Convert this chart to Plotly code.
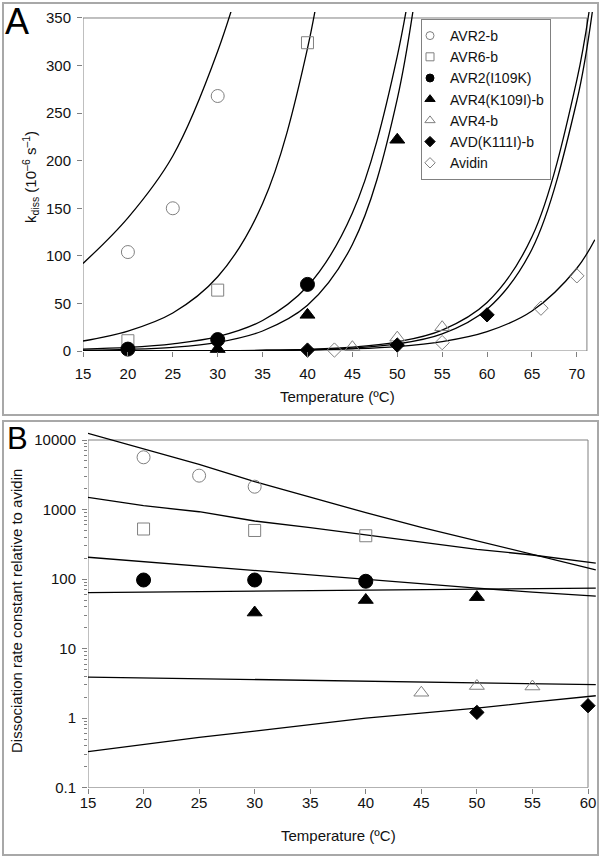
import plotly.graph_objects as go

W, H = 600, 858
FONT = "Liberation Sans, Arial, sans-serif"
GRAY = "#808080"

# ---------------- Panel A: k_diss vs temperature ----------------
temp_avr2b = [20, 25, 30]
kdiss_avr2b = [104, 150, 268]
temp_avr6b = [20, 30, 40]
kdiss_avr6b = [10.8, 64, 324]
temp_avr2_i109k = [20, 30, 40]
kdiss_avr2_i109k = [2, 12, 70]
temp_avr4_k109i = [30, 40, 50]
kdiss_avr4_k109i = [2, 38, 222]
temp_avr4b = [45, 50, 55]
kdiss_avr4b = [4, 14, 25]
temp_avd_k111i = [40, 50, 60]
kdiss_avd_k111i = [1, 6.3, 38]
temp_avidin = [43, 55, 66, 70]
kdiss_avidin = [1, 8.8, 45, 79]

# fitted curves, values
fit_temp = [15, 20, 25, 30, 35, 40, 45, 50, 55]
fit_avr2b = [92, 140, 205, 315, 470]
fit_avr6b = [10.5, 21, 40, 78, 155, 318, 620]
fit_avr2_i109k = [2, 3.8, 7.5, 15, 32, 68, 145, 310, 620]
fit_avr4_k109i = [0.8, 1.7, 3.8, 9, 21, 48, 112, 265, 600]
fit_temp_hi = [15, 20, 25, 30, 35, 40, 45, 50, 55, 60, 65, 70, 72]
fit_avr4b = [0.05, 0.1, 0.2, 0.3, 0.73, 1.7, 4.0, 9.6, 22, 51, 120, 285, 400]
fit_avd_k111i = [0.01, 0.02, 0.05, 0.15, 0.5, 1.2, 3.0, 7.4, 18, 44, 107, 263, 376]
fit_avidin = [0.03, 0.06, 0.12, 0.25, 0.5, 1.1, 2.3, 4.7, 9.8, 20.3, 42, 87, 117]

# ---------------- Panel B: ratio relative to avidin ----------------
rel_avr2b_t = [20, 25, 30]
rel_avr2b = [5640, 3070, 2130]
rel_avr6b_t = [20, 30, 40]
rel_avr6b = [525, 500, 420]
rel_avr2_i109k_t = [20, 30, 40]
rel_avr2_i109k = [97, 97, 93]
rel_avr4_k109i_t = [30, 40, 50]
rel_avr4_k109i = [33, 50, 55]
rel_avr4b_t = [45, 50, 55]
rel_avr4b = [2.32, 2.9, 2.85]
rel_avd_k111i_t = [50, 60]
rel_avd_k111i = [1.21, 1.51]

line_temp = [15, 20, 25, 30, 35, 40, 45, 50, 55, 60, 60.7]
line_avr2b = [12500, 7400, 4470, 2515, 1500, 902, 555, 356, 227, 143, 136]
line_avr6b = [1500, 1135, 930, 684, 548, 430, 334, 268, 222, 174, 169]
line_avr2_i109k = [206, 178, 154, 131, 115, 97, 85, 74, 65, 58, 57]
line_avr4_k109i = [64, 65, 66, 67, 68, 69.5, 70.5, 71.5, 72.5, 74, 74]
line_avr4b = [3.9, 3.8, 3.7, 3.6, 3.5, 3.4, 3.3, 3.2, 3.12, 3.05, 3.04]
line_avd_k111i = [0.33, 0.42, 0.53, 0.65, 0.8, 1.0, 1.18, 1.39, 1.7, 2.05, 2.1]

ticks_a_x = [15, 20, 25, 30, 35, 40, 45, 50, 55, 60, 65, 70]
ticks_a_y = [0, 50, 100, 150, 200, 250, 300, 350]
ticks_b_x = [15, 20, 25, 30, 35, 40, 45, 50, 55, 60]
ticks_b_y = [0.1, 1, 10, 100, 1000, 10000]
ticks_b_y_text = ["0.1", "1", "10", "100", "1000", "10000"]

series = [
    ("AVR2-b", "circle-open", GRAY, 13, 8),
    ("AVR6-b", "square-open", GRAY, 12, 8),
    ("AVR2(I109K)", "circle", "black", 14, 8),
    ("AVR4(K109I)-b", "triangle-up", "black", 13, 9),
    ("AVR4-b", "triangle-up-open", GRAY, 13, 9),
    ("AVD(K111I)-b", "diamond", "black", 11, 8),
    ("Avidin", "diamond-open", GRAY, 11, 8),
]
pts_a = [
    (temp_avr2b, kdiss_avr2b), (temp_avr6b, kdiss_avr6b),
    (temp_avr2_i109k, kdiss_avr2_i109k), (temp_avr4_k109i, kdiss_avr4_k109i),
    (temp_avr4b, kdiss_avr4b), (temp_avd_k111i, kdiss_avd_k111i),
    (temp_avidin, kdiss_avidin),
]
fits_a = [(fit_temp, fit_avr2b), (fit_temp, fit_avr6b),
          (fit_temp, fit_avr2_i109k), (fit_temp, fit_avr4_k109i),
          (fit_temp_hi, fit_avr4b), (fit_temp_hi, fit_avd_k111i),
          (fit_temp_hi, fit_avidin)]
pts_b = [
    (rel_avr2b_t, rel_avr2b), (rel_avr6b_t, rel_avr6b),
    (rel_avr2_i109k_t, rel_avr2_i109k), (rel_avr4_k109i_t, rel_avr4_k109i),
    (rel_avr4b_t, rel_avr4b), (rel_avd_k111i_t, rel_avd_k111i),
]
lines_b = [line_avr2b, line_avr6b, line_avr2_i109k, line_avr4_k109i,
           line_avr4b, line_avd_k111i]

fig = go.Figure()

LW = 1.3
for t, f in fits_a:
    fig.add_trace(go.Scatter(x=t[:len(f)], y=f, mode="lines",
                             line=dict(color="black", width=LW, shape="spline"),
                             showlegend=False, hoverinfo="skip",
                             xaxis="x", yaxis="y"))
for (t, k), (name, sym, col, sz, lsz) in zip(pts_a, series):
    fig.add_trace(go.Scatter(x=t, y=k, mode="markers", name=name,
                             marker=dict(symbol=sym, size=sz, color=col,
                                         line=dict(color=col, width=1)),
                             showlegend=False, cliponaxis=False,
                             xaxis="x", yaxis="y"))
# legend entries (smaller symbols, like the original legend)
for name, sym, col, sz, lsz in series:
    fig.add_trace(go.Scatter(x=[None], y=[None], mode="markers", name=name,
                             marker=dict(symbol=sym, size=lsz, color=col,
                                         line=dict(color=col, width=1)),
                             showlegend=True, xaxis="x", yaxis="y"))

for ln in lines_b:
    fig.add_trace(go.Scatter(x=line_temp, y=ln, mode="lines",
                             line=dict(color="black", width=LW),
                             showlegend=False, hoverinfo="skip",
                             xaxis="x2", yaxis="y2"))
for (t, r), (name, sym, col, sz, lsz) in zip(pts_b, series):
    fig.add_trace(go.Scatter(x=t, y=r, mode="markers", name=name,
                             marker=dict(symbol=sym, size=sz, color=col,
                                         line=dict(color=col, width=1)),
                             showlegend=False, cliponaxis=False,
                             xaxis="x2", yaxis="y2"))

# pixel geometry
def px(x):
    return x / W

def py(y):
    return 1 - y / H

tickfont = dict(family=FONT, size=15, color="#111")
axcommon = dict(showgrid=False, zeroline=False, showline=False,
                automargin=False,
                ticks="outside", ticklen=5, tickcolor=GRAY, tickwidth=1,
                tickfont=tickfont)

fig.update_layout(
    template="none",
    width=W, height=H,
    margin=dict(l=0, r=0, t=0, b=0, pad=0, autoexpand=False),
    paper_bgcolor="white", plot_bgcolor="white",
    font=dict(family=FONT, color="#111"),
    xaxis=dict(domain=[px(83), px(595)], range=[15, 72.02],
               tickvals=ticks_a_x, anchor="y", ticklabelstandoff=4,
               **axcommon),
    yaxis=dict(domain=[py(351), py(12)], range=[0, 356.3],
               tickvals=ticks_a_y, anchor="x", ticklabelstandoff=3,
               **axcommon),
    xaxis2=dict(domain=[px(88), px(596)], range=[15, 60.72],
                tickvals=ticks_b_x, anchor="y2", ticklabelstandoff=-4,
                **axcommon),
    yaxis2=dict(domain=[py(787.7), py(432)], type="log", range=[-1, 4.115],
                tickvals=ticks_b_y, ticktext=ticks_b_y_text, anchor="x2",
                ticklabelstandoff=3,
                minor=dict(ticks="outside", ticklen=3, tickcolor=GRAY,
                           dtick="D1", showgrid=False),
                **axcommon),
    legend=dict(x=px(421), y=py(19), xanchor="left", yanchor="top",
                bgcolor="white", bordercolor=GRAY, borderwidth=1,
                font=dict(family=FONT, size=14, color="#111"),
                itemwidth=30, tracegroupgap=0, indentation=-12),
    shapes=[
        dict(type="rect", xref="x", yref="y", x0=15, x1=71.12, y0=0, y1=350,
             line=dict(color=GRAY, width=1), layer="below"),
        dict(type="rect", xref="x2", yref="y2", x0=15, x1=60, y0=0.1, y1=10000,
             line=dict(color=GRAY, width=1), layer="below"),
        dict(type="rect", xref="paper", yref="paper", x0=px(3), x1=px(598),
             y0=py(415), y1=py(3), line=dict(color="#a8a8a8", width=2)),
        dict(type="rect", xref="paper", yref="paper", x0=px(3), x1=px(598),
             y0=py(855), y1=py(421), line=dict(color="#a8a8a8", width=2)),
    ],
    annotations=[
        dict(text="A", x=px(3), y=py(21), xref="paper", yref="paper",
             xanchor="left", yanchor="middle", showarrow=False,
             font=dict(family=FONT, size=36, color="black")),
        dict(text="B", x=px(5), y=py(438), xref="paper", yref="paper",
             xanchor="left", yanchor="middle", showarrow=False,
             font=dict(family=FONT, size=31, color="black")),
        dict(text="k<sub>diss</sub> (10<sup>–6</sup> s<sup>–1</sup>)",
             x=px(31), y=py(177), xref="paper", yref="paper",
             xanchor="center", yanchor="middle", textangle=-90,
             showarrow=False, font=dict(family=FONT, size=15, color="#111")),
        dict(text="Temperature (ºC)", x=px(337), y=py(396), xref="paper",
             yref="paper", xanchor="center", yanchor="middle",
             showarrow=False, font=dict(family=FONT, size=15, color="#111")),
        dict(text="Dissociation rate constant relative to avidin",
             x=px(16), y=py(611), xref="paper", yref="paper",
             xanchor="center", yanchor="middle", textangle=-90,
             showarrow=False, font=dict(family=FONT, size=15, color="#111")),
        dict(text="Temperature (ºC)", x=px(338), y=py(835), xref="paper",
             yref="paper", xanchor="center", yanchor="middle",
             showarrow=False, font=dict(family=FONT, size=15, color="#111")),
    ],
)

fig.write_html("out.html", config={"displayModeBar": False},
               post_script="document.body.style.margin='0px';")
